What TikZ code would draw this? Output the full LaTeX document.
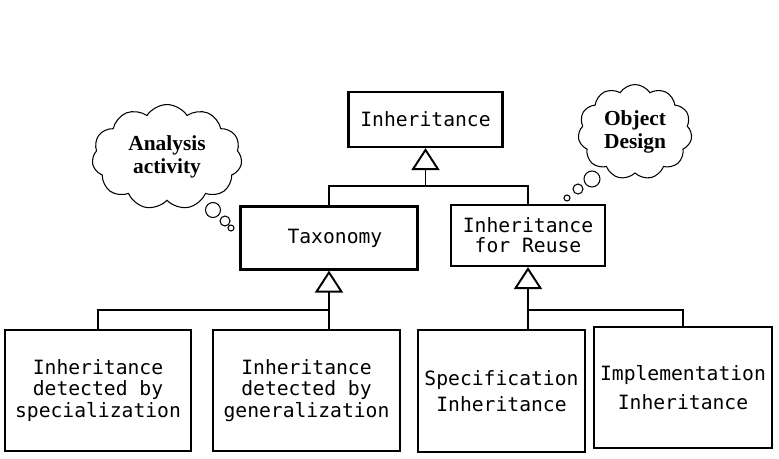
\documentclass[tikz,border=0pt]{standalone}
\usepackage{fontspec}
\setmonofont{DejaVu Sans Mono}
\newfontfamily\thoughtfont{Liberation Serif}
\usetikzlibrary{arrows.meta,shapes.symbols}
\tikzset{
  classbox/.style={draw, line width=1.3pt, align=center, inner sep=2pt,
    font=\ttfamily\fontsize{11.2}{12.4}\selectfont},
  gen/.style={-{Triangle[open, length=12.5pt, width=16pt, line width=1.1pt]}, line width=1.1pt},
  link/.style={line width=1.1pt},
  thought/.style={draw, cloud, cloud puffs=11, cloud puff arc=115, line width=0.6pt,
    align=center, inner sep=0pt, font=\thoughtfont\bfseries\fontsize{12.2}{13.5}\selectfont},
  bubble/.style={draw, circle, line width=0.6pt, inner sep=0pt}
}
\begin{document}
\begin{tikzpicture}[x=0.02cm, y=-0.02cm]
  \useasboundingbox (0,0) rectangle (779,458);

  \node[classbox, minimum width=3.08cm, minimum height=1.10cm] (inh) at (425.5,119.5) {Inheritance};
  \node[classbox, minimum width=3.54cm, minimum height=1.26cm] (tax) at (329,238) {\ Taxonomy};
  \node[classbox, minimum width=3.08cm, minimum height=1.22cm] (reuse) at (528,235.5)
    {Inheritance\\[-1pt]for Reuse};
  \node[classbox, minimum width=3.72cm, minimum height=2.42cm] (spec) at (98,390.5)
    {Inheritance\\detected by\\specialization};
  \node[classbox, minimum width=3.74cm, minimum height=2.42cm] (gener) at (306.5,390.5)
    {Inheritance\\detected by\\generalization};
  \node[classbox, minimum width=3.34cm, minimum height=2.44cm] (specinh) at (501.5,391)
    {Specification\\[2.5pt]Inheritance};
  \node[classbox, minimum width=3.56cm, minimum height=2.42cm] (implinh) at (683,387.5)
    {Implementation\\[4.5pt]Inheritance};

  % thought clouds
  \node[thought, aspect=1.43, minimum width=3.0cm, minimum height=2.1cm] (analysis) at (167,157) {Analysis\\activity};
  \node[thought, aspect=1.2, minimum width=2.28cm, minimum height=1.9cm] (objdesign) at (635,132) {Object\\Design};
  \node[bubble, minimum size=0.3cm] (a1) at (213,210) {};
  \node[bubble, minimum size=0.2cm] (a2) at (225,221) {};
  \node[bubble, minimum size=0.12cm] (a3) at (231,228) {};
  \node[bubble, minimum size=0.32cm] (o1) at (592,179) {};
  \node[bubble, minimum size=0.2cm] (o2) at (578,189) {};
  \node[bubble, minimum size=0.12cm] (o3) at (567,198) {};

  \coordinate (j0) at (inh.south |- 0,186);
  \coordinate (j1) at (tax.south |- 0,310);
  \coordinate (j2) at (reuse.south |- 0,310);

  \draw[gen] (j0) -- (inh.south);
  \draw[link] (tax.north) |- (j0) -| (reuse.north);
  \draw[gen] (j1) -- (tax.south);
  \draw[link] (spec.north) |- (j1) -- (j1 |- gener.north);
  \draw[gen] (j2) -- (reuse.south);
  \draw[link] (j2 |- specinh.north) -- (j2) -| (implinh.north);
\end{tikzpicture}
\end{document}
